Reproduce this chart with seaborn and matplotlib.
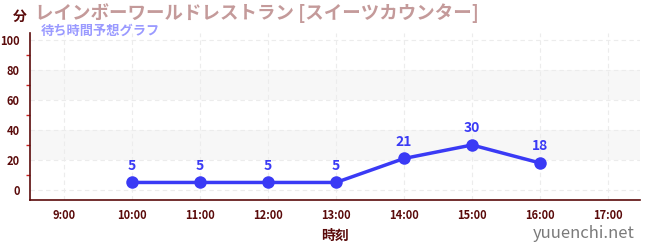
import matplotlib
matplotlib.use("Agg")
import matplotlib.pyplot as plt
from matplotlib.ticker import MultipleLocator
import seaborn as sns
import pandas as pd

hours = [10, 11, 12, 13, 14, 15, 16]
waits = [5, 5, 5, 5, 21, 30, 18]
tick_hours = [9, 10, 11, 12, 13, 14, 15, 16, 17]
tick_labels = ["9:00", "10:00", "11:00", "12:00", "13:00", "14:00", "15:00", "16:00", "17:00"]
title = "レインボーワールドレストラン [スイーツカウンター]"
subtitle = "待ち時間予想グラフ"
xlabel = "時刻"
ylabel = "分"
site = "yuuenchi.net"

sns.set_style("white")
plt.rcParams['font.family'] = ['Noto Sans CJK JP', 'DejaVu Sans']

df = pd.DataFrame({"hour": hours, "wait": waits})

fig = plt.figure(figsize=(6.5, 2.5), dpi=100)
ax = fig.add_axes([30/650, 1-200/250, 610/650, 167/250])

dark = "#5a0a0a"
line_c = "#3a3af5"

for lo, hi in [(20, 40), (60, 80)]:
    ax.axhspan(lo, hi, color="#f7f7f7", zorder=0, lw=0)

sns.lineplot(data=df, x="hour", y="wait", ax=ax, color=line_c, lw=2.5,
             marker="o", markersize=9, markeredgewidth=0, zorder=3)
for h, w in zip(hours, waits):
    ax.annotate(str(w), (h, w), xytext=(0, 7), textcoords="offset points",
                ha="center", va="bottom", color=line_c, fontsize=10, fontweight="bold")

ax.set_xlim(8.5, 17.47)
ax.set_ylim(-6.7, 104.7)
ax.set_xticks(tick_hours)
ax.set_xticklabels(tick_labels)
ax.set_yticks([0, 20, 40, 60, 80, 100])
ax.yaxis.set_minor_locator(MultipleLocator(10))
ax.grid(True, which="major", color="#ececec", ls=(0, (4, 3)), lw=0.8)
ax.set_axisbelow(True)

for s in ["top", "right"]:
    ax.spines[s].set_visible(False)
for s in ["left", "bottom"]:
    ax.spines[s].set_color(dark)
    ax.spines[s].set_linewidth(1.2)

ax.tick_params(axis="both", which="major", colors=dark, labelsize=8, length=4, width=1, direction="out")
ax.tick_params(axis="y", which="minor", colors="#cc2222", length=3, width=1, left=True)
ax.tick_params(axis="x", which="major", length=3)
for lab in ax.get_xticklabels() + ax.get_yticklabels():
    lab.set_color(dark)
    lab.set_fontweight("bold")

ax.set_xlabel(xlabel, color=dark, fontsize=10, fontweight="bold", labelpad=5)
ax.set_ylabel("")

fig.text(20/650, 1-17/250, ylabel, color=dark, fontsize=10, fontweight="bold", ha="center", va="center")
fig.text(35/650, 1-13/250, title, color="#c49a9a", fontsize=13.3, fontweight="bold", ha="left", va="center")
fig.text(41/650, 1-31/250, subtitle, color="#9a9aff", fontsize=9.5, fontweight="bold", ha="left", va="center")
fig.text(635/650, 1-233/250, site, color="#7a7a7a", fontsize=12, ha="right", va="center")

fig.savefig("out.png", dpi=100)
